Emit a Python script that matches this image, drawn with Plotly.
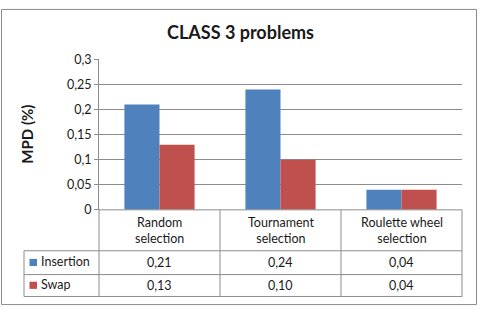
import plotly.graph_objects as go

# ---- data ----
categories = ["Random<br>selection", "Tournament<br>selection", "Roulette wheel<br>selection"]
series_names = ["Insertion", "Swap"]
insertion = [0.21, 0.24, 0.04]
swap = [0.13, 0.10, 0.04]
series_values = [insertion, swap]
series_colors = ["#4F81BD", "#C0504D"]
y_tickvals = [0, 0.05, 0.1, 0.15, 0.2, 0.25, 0.3]

W, H = 480, 313
FONT = "Lato"
TXT = "#1a1a1a"
GRID = "#8c8c8c"

def px(x):
    return x / W

def py(y):
    return 1 - y / H

# plot area in pixels
PL, PR, PT, PB = 99, 462, 54, 212
# table rows in pixels
ROW_HDR_B, ROW1_B, ROW2_B = 255, 280, 303
LEG_L = 24
dom_w = PR - PL
leg_left_dom = (LEG_L - PL) / dom_w

fig = go.Figure()
for name, vals, col in zip(series_names, series_values, series_colors):
    fig.add_trace(go.Bar(x=categories, y=vals, name=name, marker=dict(color=col, line=dict(width=0)),
                         showlegend=False, hoverinfo="skip"))

shapes = []
line = dict(color=GRID, width=1)
# outer border
shapes.append(dict(type="rect", xref="paper", yref="paper", x0=px(1.5), x1=px(476.5), y0=py(311.5), y1=py(1.5),
                   line=dict(color="#8a8a8a", width=1)))
# table horizontal lines
shapes.append(dict(type="line", xref="x domain", yref="paper", x0=0, x1=1, y0=py(PB), y1=py(PB), line=line))
for yb in [ROW_HDR_B, ROW1_B, ROW2_B]:
    shapes.append(dict(type="line", xref="x domain", yref="paper", x0=leg_left_dom, x1=1, y0=py(yb), y1=py(yb), line=line))
# table vertical lines
shapes.append(dict(type="line", xref="x domain", yref="paper", x0=leg_left_dom, x1=leg_left_dom,
                   y0=py(ROW_HDR_B), y1=py(ROW2_B), line=line))
n = len(categories)
for k in range(n + 1):
    xd = k / n
    shapes.append(dict(type="line", xref="x domain", yref="paper", x0=xd, x1=xd,
                       y0=py(PB), y1=py(ROW2_B), line=line))

annotations = []
# category header cells
for k, c in enumerate(categories):
    annotations.append(dict(x=(k + 0.5) / n, xref="x domain", y=py((PB + ROW_HDR_B) / 2), yref="paper",
                            text=c, showarrow=False, font=dict(family=FONT, size=12.5, color=TXT),
                            xanchor="center", yanchor="middle"))
# value rows
row_bounds = [(ROW_HDR_B, ROW1_B), (ROW1_B, ROW2_B)]
for (y0, y1), name, vals, col in zip(row_bounds, series_names, series_values, series_colors):
    yc = (y0 + y1) / 2
    for k, v in enumerate(vals):
        annotations.append(dict(x=(k + 0.5) / n, xref="x domain", y=py(yc), yref="paper",
                                text=f"{v:.2f}".replace(".", ","), showarrow=False,
                                font=dict(family=FONT, size=12.5, color=TXT), xanchor="center", yanchor="middle"))
    # legend key
    shapes.append(dict(type="rect", xref="paper", yref="paper", x0=px(29.5), x1=px(37), y0=py(yc + 3.5), y1=py(yc - 4),
                       fillcolor=col, line=dict(width=0)))
    annotations.append(dict(x=px(39), xref="paper", y=py(yc - 1), yref="paper", text=name, showarrow=False,
                            font=dict(family=FONT, size=12.5, color=TXT), xanchor="left", yanchor="middle"))

# title and y-axis title
annotations.append(dict(x=px(240), y=py(25), xref="paper", yref="paper", text="<b>CLASS 3 problems</b>",
                        showarrow=False, font=dict(family=FONT, size=18, color=TXT), xanchor="center", yanchor="middle"))
annotations.append(dict(x=px(27), y=py(133), xref="paper", yref="paper", text="<b>MPD (%)</b>", textangle=-90,
                        showarrow=False, font=dict(family=FONT, size=15, color=TXT), xanchor="center", yanchor="middle"))

fig.update_layout(
    width=W, height=H,
    margin=dict(l=0, r=0, t=0, b=0),
    paper_bgcolor="white", plot_bgcolor="white",
    separators=",.",
    barmode="group", bargap=0.42, bargroupgap=0,
    xaxis=dict(domain=[px(PL), px(PR)], range=[-0.5, 2.5], showticklabels=False, showgrid=False,
               zeroline=False, showline=False, ticks=""),
    yaxis=dict(domain=[py(PB), py(PT)], range=[0, 0.3], tickvals=y_tickvals, tickformat=".2~f",
               showgrid=True, gridcolor=GRID, gridwidth=1, zeroline=False,
               showline=True, linecolor=GRID, linewidth=1, ticks="outside", ticklen=4, tickcolor=GRID,
               tickfont=dict(family=FONT, size=12.5, color=TXT)),
    shapes=shapes,
    annotations=annotations,
)

fig.write_html("out.html", config={"displayModeBar": False},
               post_script="document.body.style.margin='0px';")
